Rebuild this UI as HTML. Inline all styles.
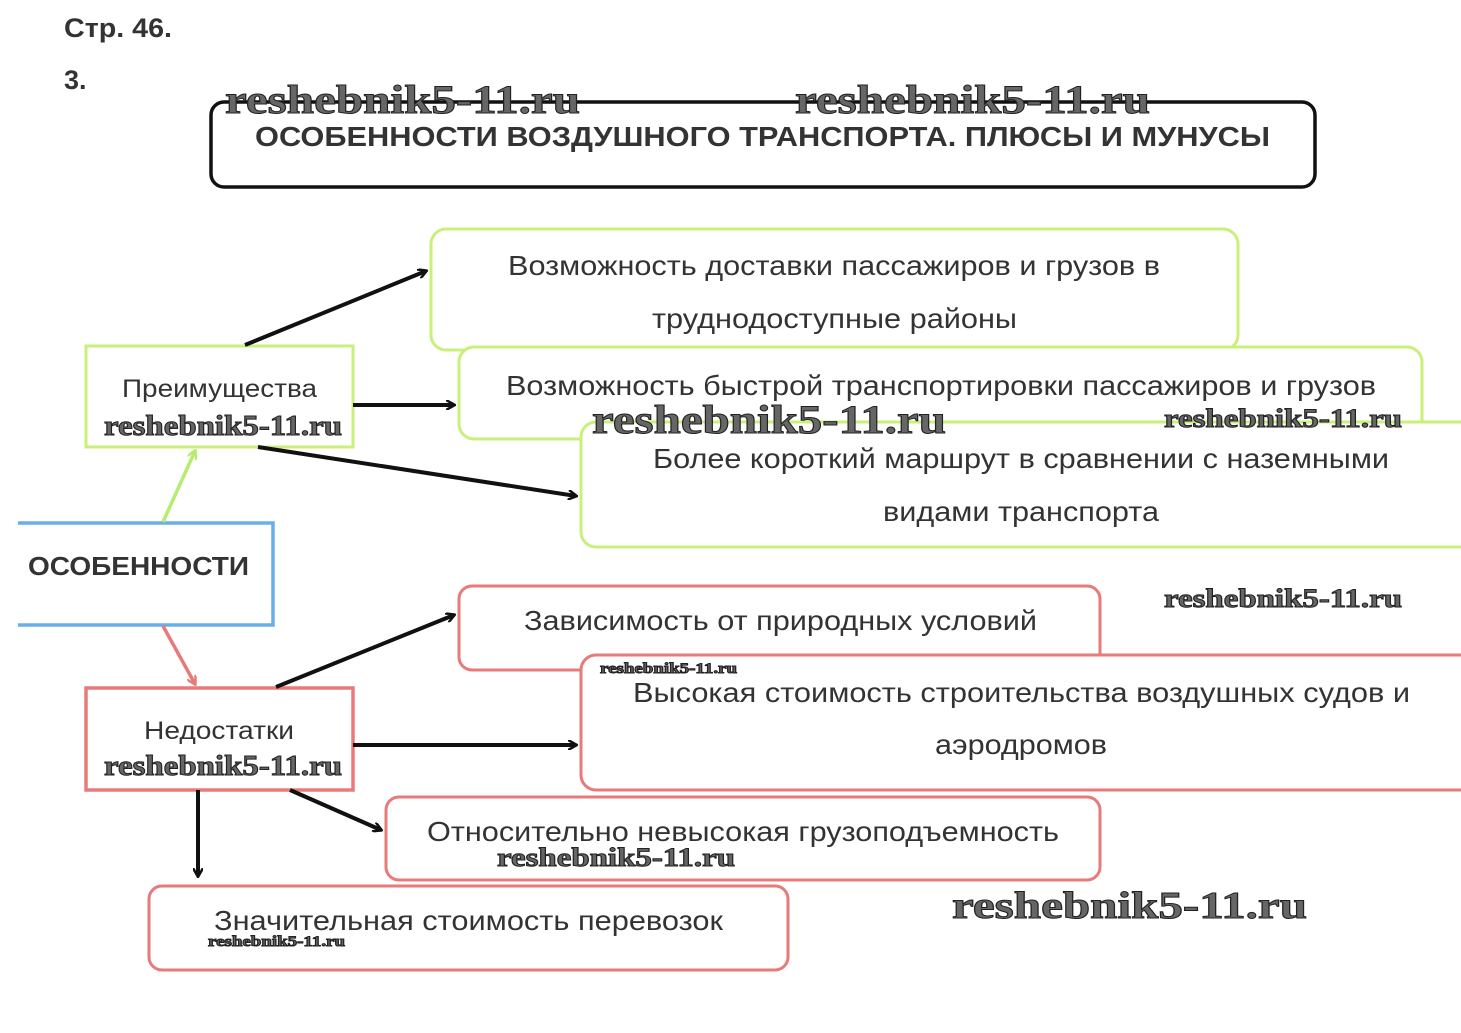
<!DOCTYPE html>
<html><head><meta charset="utf-8"><style>
html,body{margin:0;padding:0;background:#fff;}
svg{display:block;}
.t{font-family:"Liberation Sans",sans-serif;fill:#333;}
.w{font-family:"Liberation Serif",serif;font-weight:bold;fill:#666;stroke:#222;stroke-width:1;}
</style></head><body>
<svg width="1461" height="1033" viewBox="0 0 1461 1033" xmlns="http://www.w3.org/2000/svg">
<defs>
<marker id="ab" markerWidth="10" markerHeight="10" refX="8" refY="5" orient="auto" markerUnits="userSpaceOnUse" viewBox="0 0 10 10"><path d="M0,0 L9,5 L0,10" fill="none" stroke="#111" stroke-width="2.5"/></marker>
<marker id="ag" markerWidth="10" markerHeight="10" refX="8" refY="5" orient="auto" markerUnits="userSpaceOnUse" viewBox="0 0 10 10"><path d="M0,0 L9,5 L0,10" fill="none" stroke="#b8ec70" stroke-width="2.5"/></marker>
<marker id="ar" markerWidth="10" markerHeight="10" refX="8" refY="5" orient="auto" markerUnits="userSpaceOnUse" viewBox="0 0 10 10"><path d="M0,0 L9,5 L0,10" fill="none" stroke="#e87a7a" stroke-width="2.5"/></marker>
</defs>
<text class="t" x="64" y="37" font-size="27" font-weight="bold" textLength="108" lengthAdjust="spacingAndGlyphs">Стр. 46.</text>
<text class="t" x="64" y="89" font-size="27" font-weight="bold">3.</text>

<rect x="211" y="102" width="1104" height="85" rx="13" fill="#fff" stroke="#111" stroke-width="3.5"/>
<text class="t" x="255" y="146" font-size="28" font-weight="bold" fill="#222" textLength="1015" lengthAdjust="spacingAndGlyphs">ОСОБЕННОСТИ ВОЗДУШНОГО ТРАНСПОРТА. ПЛЮСЫ И МУНУСЫ</text>

<rect x="431" y="229" width="807" height="121" rx="15" fill="#fff" stroke="#c8f07a" stroke-width="3"/>
<text class="t" x="508" y="275" font-size="28" textLength="652" lengthAdjust="spacingAndGlyphs">Возможность доставки пассажиров и грузов в</text>
<text class="t" x="652" y="328" font-size="28" textLength="365" lengthAdjust="spacingAndGlyphs">труднодоступные районы</text>
<rect x="459" y="347" width="963" height="92" rx="15" fill="#fff" stroke="#c8f07a" stroke-width="3"/>
<text class="t" x="506" y="395" font-size="28" textLength="870" lengthAdjust="spacingAndGlyphs">Возможность быстрой транспортировки пассажиров и грузов</text>
<rect x="581" y="422" width="900" height="125" rx="15" fill="#fff" stroke="#c8f07a" stroke-width="3"/>
<text class="t" x="653" y="468" font-size="28" textLength="736" lengthAdjust="spacingAndGlyphs">Более короткий маршрут в сравнении с наземными</text>
<text class="t" x="883" y="521" font-size="28" textLength="276" lengthAdjust="spacingAndGlyphs">видами транспорта</text>

<rect x="86" y="346" width="267" height="101" fill="#fff" stroke="#c8f07a" stroke-width="3"/>
<text class="t" x="122" y="397" font-size="25" textLength="195" lengthAdjust="spacingAndGlyphs">Преимущества</text>

<rect x="10" y="523" width="263" height="102" fill="#fff" stroke="#6aaee8" stroke-width="3.5"/>
<rect x="0" y="520" width="18" height="110" fill="#fff"/>
<text class="t" x="28" y="575" font-size="26" font-weight="bold" fill="#222" textLength="221" lengthAdjust="spacingAndGlyphs">ОСОБЕННОСТИ</text>

<rect x="459" y="586" width="641" height="84" rx="13" fill="#fff" stroke="#e87a7a" stroke-width="3"/>
<text class="t" x="524" y="630" font-size="28" textLength="513" lengthAdjust="spacingAndGlyphs">Зависимость от природных условий</text>
<rect x="581" y="655" width="900" height="135" rx="15" fill="#fff" stroke="#e87a7a" stroke-width="3"/>
<text class="t" x="633" y="702" font-size="28" textLength="777" lengthAdjust="spacingAndGlyphs">Высокая стоимость строительства воздушных судов и</text>
<text class="t" x="935" y="754" font-size="28" textLength="172" lengthAdjust="spacingAndGlyphs">аэродромов</text>
<rect x="386" y="797" width="714" height="83" rx="13" fill="#fff" stroke="#e87a7a" stroke-width="3"/>
<text class="t" x="427" y="841" font-size="28" textLength="632" lengthAdjust="spacingAndGlyphs">Относительно невысокая грузоподъемность</text>
<rect x="149" y="886" width="639" height="84" rx="13" fill="#fff" stroke="#e87a7a" stroke-width="3"/>
<text class="t" x="214" y="930" font-size="28" textLength="509" lengthAdjust="spacingAndGlyphs">Значительная стоимость перевозок</text>

<rect x="86" y="688" width="267" height="102" fill="#fff" stroke="#e87a7a" stroke-width="3.5"/>
<text class="t" x="144" y="739" font-size="25" textLength="150" lengthAdjust="spacingAndGlyphs">Недостатки</text>

<g stroke="#111" stroke-width="4" fill="none">
<line x1="245" y1="345" x2="426" y2="271" marker-end="url(#ab)"/>
<line x1="353" y1="405" x2="454" y2="405" marker-end="url(#ab)"/>
<line x1="258" y1="447" x2="576" y2="496" marker-end="url(#ab)"/>
<line x1="276" y1="687" x2="454" y2="615" marker-end="url(#ab)"/>
<line x1="353" y1="745" x2="576" y2="745" marker-end="url(#ab)"/>
<line x1="290" y1="790" x2="381" y2="830" marker-end="url(#ab)"/>
<line x1="198" y1="790" x2="198" y2="876" marker-end="url(#ab)"/>
</g>
<line x1="163" y1="522" x2="195" y2="451" stroke="#b8ec70" stroke-width="3.5" marker-end="url(#ag)"/>
<line x1="163" y1="626" x2="195" y2="684" stroke="#e87a7a" stroke-width="3.5" marker-end="url(#ar)"/>

<text class="w" x="225" y="113" font-size="40" textLength="355" lengthAdjust="spacingAndGlyphs">reshebnik5-11.ru</text>
<text class="w" x="795" y="113" font-size="40" textLength="355" lengthAdjust="spacingAndGlyphs">reshebnik5-11.ru</text>
<text class="w" x="104" y="435" font-size="28" textLength="238" lengthAdjust="spacingAndGlyphs">reshebnik5-11.ru</text>
<text class="w" x="592" y="433" font-size="40" textLength="354" lengthAdjust="spacingAndGlyphs">reshebnik5-11.ru</text>
<text class="w" x="1164" y="427" font-size="26" textLength="238" lengthAdjust="spacingAndGlyphs">reshebnik5-11.ru</text>
<text class="w" x="1164" y="607" font-size="26" textLength="238" lengthAdjust="spacingAndGlyphs">reshebnik5-11.ru</text>
<text class="w" x="600" y="673" font-size="15" stroke-width="0.4" textLength="137" lengthAdjust="spacingAndGlyphs">reshebnik5-11.ru</text>
<text class="w" x="104" y="775" font-size="28" textLength="238" lengthAdjust="spacingAndGlyphs">reshebnik5-11.ru</text>
<text class="w" x="497" y="866" font-size="26" textLength="238" lengthAdjust="spacingAndGlyphs">reshebnik5-11.ru</text>
<text class="w" x="952" y="918" font-size="38" textLength="355" lengthAdjust="spacingAndGlyphs">reshebnik5-11.ru</text>
<text class="w" x="208" y="946" font-size="15" stroke-width="0.4" textLength="137" lengthAdjust="spacingAndGlyphs">reshebnik5-11.ru</text>
</svg>
</body></html>
